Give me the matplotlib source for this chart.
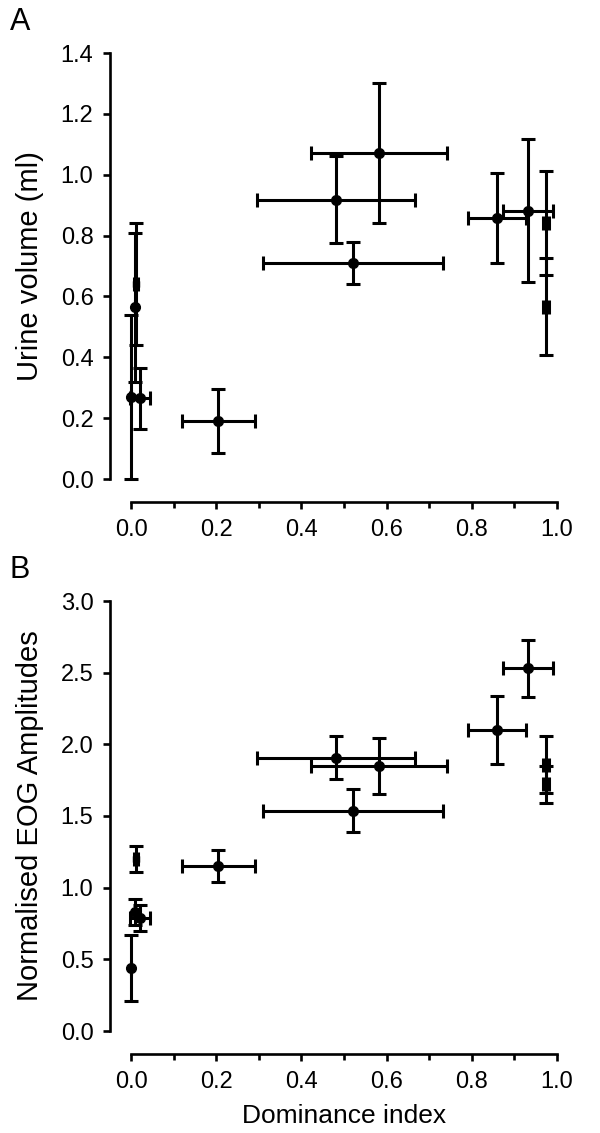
import numpy as np
import matplotlib.pyplot as plt

plt.rcParams['font.family'] = ['Liberation Sans', 'DejaVu Sans']

# dominance index (shared by both panels)
dom_circ = [0.0, 0.021, 0.010, 0.205, 0.481, 0.521, 0.582, 0.859, 0.932]
dom_circ_err = [0.0, 0.024, 0.0, 0.085, 0.185, 0.212, 0.16, 0.068, 0.059]
dom_sq = [0.012, 0.974, 0.974]
dom_sq_err = [0.004, 0.007, 0.007]

# panel A: urine volume (ml)
urine_circ = [0.27, 0.265, 0.565, 0.19, 0.918, 0.71, 1.07, 0.858, 0.882]
urine_circ_err = [0.27, 0.10, 0.245, 0.105, 0.143, 0.068, 0.23, 0.148, 0.235]
urine_sq = [0.64, 0.842, 0.566]
urine_sq_err = [0.20, 0.17, 0.16]

# panel B: normalised EOG amplitudes
eog_circ = [0.44, 0.79, 0.83, 1.15, 1.906, 1.536, 1.85, 2.10, 2.53]
eog_circ_err = [0.23, 0.09, 0.09, 0.11, 0.15, 0.15, 0.195, 0.235, 0.20]
eog_sq = [1.20, 1.857, 1.72]
eog_sq_err = [0.09, 0.20, 0.13]

W, H = 600, 1133
fig = plt.figure(figsize=(W / 100, H / 100), dpi=100)

ax_a = fig.add_axes([131 / W, (H - 479) / H, 426 / W, 426 / H])
ax_b = fig.add_axes([131 / W, (H - 1031) / H, 426 / W, 430 / H])

eb = dict(color='black', ecolor='black', elinewidth=2.2, capsize=5,
          capthick=2.2, linestyle='none', clip_on=False)


def draw(ax, yc, yce, ys, yse, ymax, ystep, ylabel):
    ax.errorbar(dom_circ, yc, xerr=dom_circ_err, yerr=yce, fmt='o',
                markersize=7, **eb)
    ax.errorbar(dom_sq, ys, xerr=dom_sq_err, yerr=yse, fmt='s',
                markersize=5, **eb)
    ax.set_xlim(0, 1)
    ax.set_ylim(0, ymax)
    for s in ['top', 'right']:
        ax.spines[s].set_visible(False)
    ax.spines['left'].set_position(('outward', 15))
    ax.spines['bottom'].set_position(('outward', 16.5))
    ax.spines['left'].set_bounds(0, ymax)
    ax.spines['bottom'].set_bounds(0, 1)
    for s in ['left', 'bottom']:
        ax.spines[s].set_linewidth(1.9)
    ax.set_xticks(np.arange(0, 1.01, 0.2))
    ax.set_xticks(np.arange(0.1, 1.0, 0.2), minor=True)
    ax.set_yticks(np.arange(0, ymax + 0.001, ystep))
    ax.xaxis.set_major_formatter(plt.FormatStrFormatter('%.1f'))
    ax.yaxis.set_major_formatter(plt.FormatStrFormatter('%.1f'))
    ax.tick_params(which='major', length=5, width=1.9, labelsize=17, pad=7)
    ax.tick_params(which='minor', length=4, width=1.9)
    ax.set_ylabel(ylabel, fontsize=21)
    ax.yaxis.set_label_coords(-0.205, 0.5)


draw(ax_a, urine_circ, urine_circ_err, urine_sq, urine_sq_err, 1.4, 0.2,
     'Urine volume (ml)')
draw(ax_b, eog_circ, eog_circ_err, eog_sq, eog_sq_err, 3.0, 0.5,
     'Normalised EOG Amplitudes')
ax_b.set_xlabel('Dominance index', fontsize=19, labelpad=8)

fig.text(10 / W, 1 - 22 / H, 'A', fontsize=22, va='center')
fig.text(10 / W, 1 - 570 / H, 'B', fontsize=22, va='center')

fig.savefig('out.png', dpi=100)
